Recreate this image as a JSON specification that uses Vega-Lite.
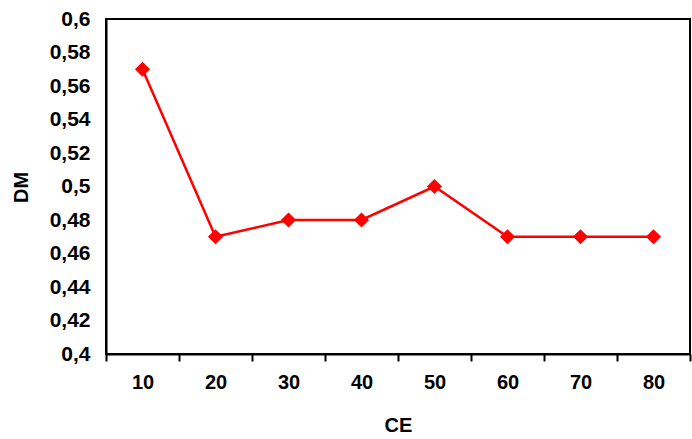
{
  "$schema": "https://vega.github.io/schema/vega-lite/v6.json",
  "width": 584,
  "height": 335,
  "autosize": {"type": "none"},
  "padding": {"left": 106, "top": 19, "right": 2, "bottom": 85},
  "background": "white",
  "config": {
    "view": {"stroke": "black", "strokeWidth": 2},
    "font": "Liberation Sans"
  },
  "data": {
    "values": [
      {"CE": "10", "DM": 0.57},
      {"CE": "20", "DM": 0.47},
      {"CE": "30", "DM": 0.48},
      {"CE": "40", "DM": 0.48},
      {"CE": "50", "DM": 0.50},
      {"CE": "60", "DM": 0.47},
      {"CE": "70", "DM": 0.47},
      {"CE": "80", "DM": 0.47}
    ]
  },
  "encoding": {
    "x": {
      "field": "CE",
      "type": "ordinal",
      "sort": null,
      "scale": {"type": "band", "paddingInner": 0, "paddingOuter": 0},
      "axis": {
        "title": "CE",
        "labelAngle": 0,
        "labelFont": "Liberation Sans",
        "labelFontWeight": "bold",
        "labelFontSize": 20,
        "labelColor": "black",
        "labelPadding": 11,
        "tickBand": "extent",
        "tickSize": 7,
        "tickWidth": 2,
        "tickColor": "black",
        "domainColor": "black",
        "domainWidth": 2,
        "titleFont": "Liberation Sans",
        "titleFontWeight": "bold",
        "titleFontSize": 20,
        "titleColor": "black",
        "titleBaseline": "middle",
        "titleY": 71,
        "grid": false
      }
    },
    "y": {
      "field": "DM",
      "type": "quantitative",
      "scale": {"domain": [0.4, 0.6], "nice": false, "zero": false},
      "axis": {
        "title": "DM",
        "values": [0.4, 0.42, 0.44, 0.46, 0.48, 0.5, 0.52, 0.54, 0.56, 0.58, 0.6],
        "labelExpr": "replace(format(datum.value, '.2~f'), '.', ',')",
        "labelFont": "Liberation Sans",
        "labelFontWeight": "bold",
        "labelFontSize": 21,
        "labelColor": "black",
        "labelPadding": 16,
        "ticks": false,
        "tickSize": 0,
        "domainColor": "black",
        "domainWidth": 2,
        "titleFont": "Liberation Sans",
        "titleFontWeight": "bold",
        "titleFontSize": 20,
        "titleColor": "black",
        "titleAngle": -90,
        "titleAlign": "center",
        "titleBaseline": "middle",
        "titleX": -85,
        "titleY": 168,
        "grid": false
      }
    }
  },
  "layer": [
    {"mark": {"type": "line", "color": "#FF0000", "strokeWidth": 2.5}},
    {"mark": {"type": "point", "shape": "diamond", "filled": true, "color": "#FF0000", "size": 230, "opacity": 1}}
  ]
}
